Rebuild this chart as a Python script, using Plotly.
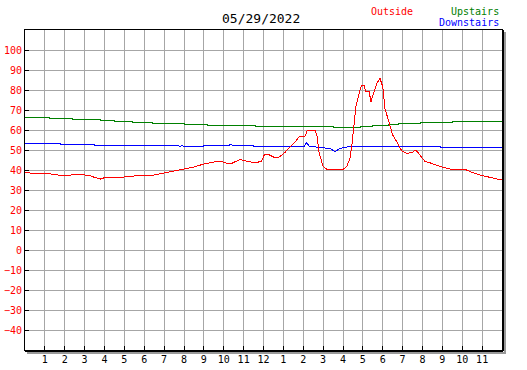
import plotly.graph_objects as go

# Outside temperature (red)
out_h = [0, 0.25, 0.5, 1.0, 1.3, 1.6, 2.0, 2.3, 2.6, 3.0, 3.3, 3.6, 3.8, 4.1, 4.5, 4.8, 5.0, 5.5,
         6.0, 6.5, 7.0, 7.5, 8.0, 8.5, 9.0, 9.5, 9.8, 10.1, 10.4, 10.8, 11.1, 11.4, 11.6, 11.9,
         12.05, 12.3, 12.6, 12.8, 13.1, 13.3, 13.6, 13.8, 14.1, 14.2, 14.6, 14.7, 14.8, 15.0,
         15.2, 15.6, 16.0, 16.19, 16.35, 16.44, 16.65, 16.86, 16.94, 17.06, 17.14, 17.31, 17.41,
         17.56, 17.7, 17.86, 18.0, 18.11, 18.28, 18.5, 18.7, 18.95, 19.2, 19.46, 19.67, 19.87,
         20.13, 20.4, 20.9, 21.4, 22.1, 22.4, 22.9, 23.4, 24.0]
out_v = [39, 38.5, 38.5, 38.5, 38, 37.5, 37, 37.5, 38, 37.5, 37, 36, 35.5, 36.5, 36.5, 36, 36.5, 37,
         37.5, 37.5, 38.5, 39.5, 40.5, 41.5, 43, 44, 44.5, 43.5, 43.3, 45.2, 44.5, 44, 43.5, 44.5,
         47.8, 47.5, 46, 46.5, 49, 51.3, 54, 56.7, 57, 59.7, 59.7, 56.7, 48.5, 41.7,
         40.3, 40, 40.3, 41.7, 45.8, 51.7, 71.7, 80, 82.5, 82.5, 79.2, 79.2, 74.2,
         79, 83.3, 85.8, 81.7, 70.8, 65, 57.5, 54.2, 49.7, 48.3, 48.7, 50, 47.5,
         44.2, 43.5, 41.7, 40.5, 40.5, 39.2, 37.5, 36.3, 35]

# Upstairs temperature (green)
up_h = [0, 1.25, 2.4, 3.8, 4.5, 5.4, 6.4, 8.0, 9.2, 11.6, 15.5, 16.9, 17.5, 18.3, 18.8, 19.9, 21.5, 24]
up_v = [66.3, 66, 65.5, 65, 64.5, 64, 63.5, 63, 62.5, 62, 61.5, 62, 62.3, 62.8, 63.5, 64, 64.5, 64.5]

# Downstairs temperature (blue)
dn_h = [0, 1.78, 1.8, 3.48, 3.5, 7.7, 7.8, 7.9, 8.0, 8.98, 9.0, 10.25, 10.35, 10.45, 11.48, 11.5,
        14.05, 14.15, 14.3, 14.76, 15.35, 15.6, 15.85, 16.2, 16.35, 20.88, 20.9, 24]
dn_v = [53.3, 53.3, 52.8, 52.8, 52.3, 52.3, 51.6, 52.3, 51.8, 51.8, 52.3, 52.3, 52.8, 52.3, 52.3, 51.8,
        51.8, 53.8, 52, 51.3, 50.8, 49.2, 50.8, 51.7, 51.8, 51.8, 51.3, 51.3]

x_tickvals = list(range(1, 24))
x_ticktext = [str(i) for i in range(1, 13)] + [str(i) for i in range(1, 12)]
y_tickvals = list(range(-40, 101, 10))

title_text = "05/29/2022"
legend_names = ["Outside", "Upstairs", "Downstairs"]
colors = ["#ff0000", "#008000", "#0000ff"]

FONT = "DejaVu Sans Mono"

fig = go.Figure()
fig.add_trace(go.Scatter(x=up_h, y=up_v, mode="lines", line=dict(color=colors[1], width=1, shape="hv"),
                         name=legend_names[1]))
fig.add_trace(go.Scatter(x=dn_h, y=dn_v, mode="lines", line=dict(color=colors[2], width=1),
                         name=legend_names[2]))
fig.add_trace(go.Scatter(x=out_h, y=out_v, mode="lines", line=dict(color=colors[0], width=1),
                         name=legend_names[0]))

L, R, T, B = 25, 25, 30, 20
W, H = 527, 370
pw, ph = W - L - R, H - T - B

def px(x):
    return (x - L) / pw

def py(y):
    return (H - B - y) / ph

fig.update_layout(
    width=W, height=H,
    margin=dict(l=L, r=R, t=T, b=B, pad=0, autoexpand=False),
    paper_bgcolor="white", plot_bgcolor="white",
    showlegend=False,
    font=dict(family=FONT, size=10, color="black"),
    xaxis=dict(range=[0, 24], tickvals=x_tickvals, ticktext=x_ticktext, automargin=False,
               showgrid=True, gridcolor="#a6a6a6", gridwidth=1,
               ticks="inside", ticklen=4, tickcolor="black", tickwidth=1,
               showline=True, linecolor="black", linewidth=1, mirror=True,
               zeroline=False, tickfont=dict(family=FONT, size=10, color="black")),
    yaxis=dict(range=[-50, 110], tickvals=y_tickvals, automargin=False,
               showgrid=True, gridcolor="#a6a6a6", gridwidth=1,
               ticks="inside", ticklen=4, tickcolor="black", tickwidth=1,
               showline=True, linecolor="black", linewidth=1, mirror=True,
               zeroline=False, tickfont=dict(family=FONT, size=10, color="#ff0000")),
    shapes=[
        dict(type="line", xref="paper", yref="paper", x0=1 + 1 / pw, x1=1 + 1 / pw, y0=-1 / ph, y1=1,
             line=dict(color="black", width=2)),
        dict(type="line", xref="paper", yref="paper", x0=0, x1=1 + 1 / pw, y0=-1 / ph, y1=-1 / ph,
             line=dict(color="black", width=2)),
        dict(type="line", xref="paper", yref="paper", x0=1 + 3 / pw, x1=1 + 3 / pw, y0=-3 / ph, y1=1 - 2 / ph,
             line=dict(color="#999999", width=2)),
        dict(type="line", xref="paper", yref="paper", x0=2 / pw, x1=1 + 4 / pw, y0=-3 / ph, y1=-3 / ph,
             line=dict(color="#999999", width=2)),
    ],
    annotations=[
        dict(text=title_text, xref="paper", yref="paper", x=px(261), y=py(19), xanchor="center",
             yanchor="middle", showarrow=False, font=dict(family=FONT, size=13, color="black")),
        dict(text=legend_names[0], xref="paper", yref="paper", x=px(369), y=py(11), xanchor="left",
             yanchor="middle", showarrow=False, font=dict(family=FONT, size=10, color=colors[0])),
        dict(text=legend_names[1], xref="paper", yref="paper", x=px(501), y=py(11), xanchor="right",
             yanchor="middle", showarrow=False, font=dict(family=FONT, size=10, color=colors[1])),
        dict(text=legend_names[2], xref="paper", yref="paper", x=px(501), y=py(23), xanchor="right",
             yanchor="middle", showarrow=False, font=dict(family=FONT, size=10, color=colors[2])),
    ],
)

post = (
    "document.body.style.margin='0';document.body.style.overflow='hidden';"
    "document.querySelectorAll('.js-line').forEach(function(e){e.style.shapeRendering='crispEdges';});"
)
fig.write_html("out.html", config={"displayModeBar": False}, post_script=post)
